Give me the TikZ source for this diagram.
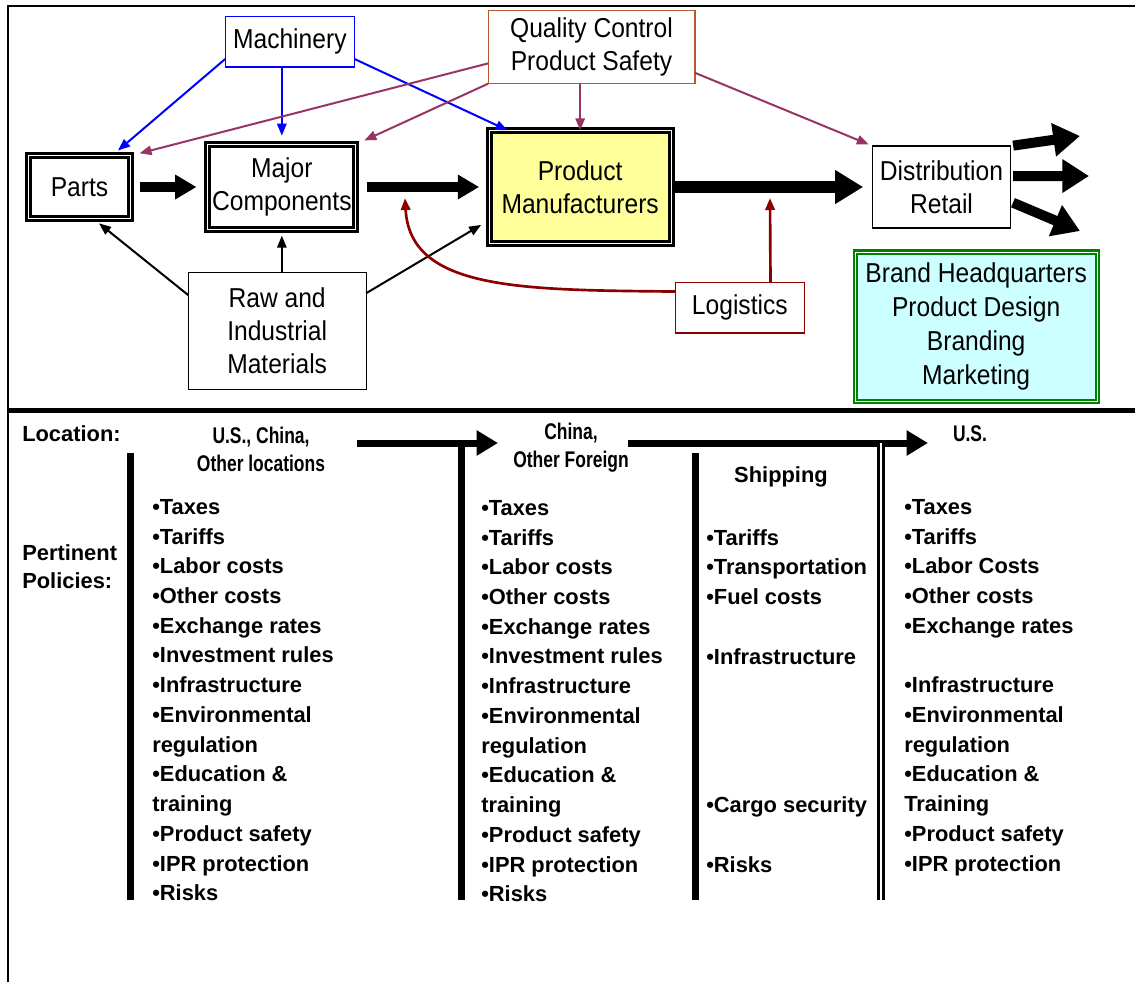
\documentclass[tikz,border=0pt]{standalone}
\usepackage{fontspec}
\setmainfont{Liberation Sans}
\newfontfamily\boxfont[FakeStretch=0.9]{Liberation Sans}
\newfontfamily\narrowfont[FakeStretch=0.77]{Liberation Sans}
\usetikzlibrary{positioning,arrows.meta}
\definecolor{QCBrown}{HTML}{B45A32}
\definecolor{QCPurple}{HTML}{993366}
\definecolor{LogRed}{HTML}{8B0000}
\definecolor{MfgYellow}{HTML}{FFFF99}
\definecolor{BrandCyan}{HTML}{CCFFFF}
\definecolor{BrandGreen}{HTML}{008000}
\newcommand{\polbul}{\textbullet}

\begin{document}
\begin{tikzpicture}[
  x=0.75pt, y=-0.75pt,
  box/.style={draw,align=center,inner sep=2pt,outer sep=0pt,line width=1pt,font={\boxfont\fontsize{20.5}{24.75}\selectfont}},
  heavybox/.style={box,line width=2.2pt,double=white,double distance=0.7pt},
  arr/.style={-{Triangle[length=9pt,width=7pt]},line width=1.5pt},
  bigarr/.style={-{Triangle[length=16pt,width=17.5pt]},line width=7.5pt},
  hugearr/.style={-{Triangle[length=21pt,width=24pt]},line width=9pt},
  outarr/.style={-{Triangle[length=20pt,width=24pt]},line width=7.5pt,shorten <=2pt},
  locarr/.style={-{Triangle[length=16pt,width=18pt]},line width=5.25pt},
  bar/.style={line width=5.25pt},
  lbl/.style={inner sep=0pt,font={\bfseries\fontsize{16.4}{22.3}\selectfont}},
  site/.style={inner sep=0pt,align=center,font={\narrowfont\bfseries\fontsize{17}{21}\selectfont}},
  policies/.style={lbl,anchor=north west,align=left}
]
\useasboundingbox (0,0) rectangle (1135,982);
\draw[line width=1.5pt] (8,982) -- (8,6) -- (1135,6);
\draw[line width=3.75pt] (8,410) -- (1135,410);

\node[heavybox,minimum width=76.5pt,minimum height=47pt] (parts) at (79.5,187) {Parts};
\node[heavybox,minimum width=111pt,minimum height=64pt,right=58pt of parts] (mc) {Major\\Components};
\node[heavybox,fill=MfgYellow,minimum width=136.5pt,minimum height=85pt,right=100pt of mc] (pm) {Product\\Manufacturers};
\node[box,minimum width=103.5pt,minimum height=61.5pt,right=151pt of pm] (dist) {Distribution\\Retail};
\node[box,draw=blue,minimum width=97pt,minimum height=38pt,above=58pt of mc,xshift=6pt] (machinery) {Machinery};
\node[box,draw=QCBrown,minimum width=155pt,minimum height=55pt,above=35pt of pm,xshift=8.5pt] (qc) {Quality Control\\Product Safety};
\node[box,minimum width=133.5pt,minimum height=88pt,below=32pt of mc,xshift=-3.5pt] (raw) {Raw and\\Industrial\\Materials};
\node[box,draw=LogRed,minimum width=97pt,minimum height=38pt,below right=29pt and 3pt of pm] (logistics) {Logistics};
\node[box,draw=BrandGreen,fill=BrandCyan,line width=1.6pt,double=white,double distance=0.6pt,minimum width=181.5pt,minimum height=112pt,below=18pt of dist,xshift=26pt,font={\boxfont\fontsize{20.5}{25.5}\selectfont}] (brand) {Brand Headquarters\\Product Design\\Branding\\Marketing};
\coordinate (out1) at (1080,136);
\coordinate (out2) at (1089,176);
\coordinate (out3) at (1080,231);
\coordinate (lgup) at (770,198);
\coordinate (lgmc) at (405,198);

\draw[bigarr,shorten <=7pt,shorten >=8.5pt] (parts) -- (mc);
\draw[bigarr,shorten <=8pt,shorten >=7.5pt] (mc) -- (pm);
\draw[hugearr,shorten <=3pt,shorten >=7pt] (pm) -- (dist);
\draw[outarr] (dist.north east) -- (out1);
\draw[outarr] (dist.9) -- (out2);
\draw[outarr] (dist.-12) -- (out3);
\draw[arr,blue,shorten >=6pt] (machinery.195) -- (parts.44);
\draw[arr,blue,shorten >=6.5pt] (machinery.south -| mc) -- (mc.north);
\draw[arr,blue] (machinery.-15) -- (pm.142);
\draw[arr,QCPurple,shorten >=7pt] (qc.189) -- (parts.north east);
\draw[arr,QCPurple,shorten >=7pt] (qc.south west) -- (mc.north east);
\draw[arr,QCPurple] (qc.south -| pm) -- (pm.north);
\draw[arr,QCPurple,shorten >=3pt] (qc.-14) -- (dist.north west);
\draw[arr,shorten >=6pt] (raw.158) -- (parts.-67);
\draw[arr,shorten >=4.5pt] (raw.north -| mc) -- (mc.south);
\draw[arr,shorten >=7pt] (raw.23) -- (pm.200);
\draw[arr,LogRed,line width=2pt] ([xshift=23pt]logistics.north) -- (lgup);
\draw[arr,LogRed,line width=2pt] (logistics.166) .. controls (520,290) and (410,290) .. (lgmc);

\node[lbl,anchor=west] (loc) at (22,434) {Location:};
\node[lbl,anchor=north west,align=left,font={\bfseries\fontsize{16.4}{21}\selectfont}] (pert) at (22,544) {Pertinent\\Policies:};
\node[site] (site1) at (261,449) {U.S., China,\\Other locations};
\node[site] (site2) at (571,448) {China,\\Other Foreign};
\node[site] (site3) at (970,434) {U.S.};
\node[lbl] (ship) at (781,477) {Shipping};
\draw[locarr] (357,443) -- (498,443);
\draw[locarr] (628,443) -- (928,443);
\draw[bar] (130,453) -- (130,900);
\draw[bar] (461,443) -- (461,900);
\draw[bar] (695,453) -- (695,900);
\draw[line width=2pt,double=white,double distance=1.4pt] (881,443) -- (881,900);

\node[policies] (col1) at (152,499) {\polbul Taxes\\\polbul Tariffs\\\polbul Labor costs\\\polbul Other costs\\\polbul Exchange rates\\\polbul Investment rules\\\polbul Infrastructure\\\polbul Environmental\\regulation\\\polbul Education \&\\training\\\polbul Product safety\\\polbul IPR protection\\\polbul Risks};
\node[policies] (col2) at (481,500) {\polbul Taxes\\\polbul Tariffs\\\polbul Labor costs\\\polbul Other costs\\\polbul Exchange rates\\\polbul Investment rules\\\polbul Infrastructure\\\polbul Environmental\\regulation\\\polbul Education \&\\training\\\polbul Product safety\\\polbul IPR protection\\\polbul Risks};
\node[policies] (col3) at (706,529) {\polbul Tariffs\\\polbul Transportation\\\polbul Fuel costs\\~\\\polbul Infrastructure\\~\\~\\~\\~\\\polbul Cargo security\\~\\\polbul Risks};
\node[policies] (col4) at (904,499) {\polbul Taxes\\\polbul Tariffs\\\polbul Labor Costs\\\polbul Other costs\\\polbul Exchange rates\\~\\\polbul Infrastructure\\\polbul Environmental\\regulation\\\polbul Education \&\\Training\\\polbul Product safety\\\polbul IPR protection};
\end{tikzpicture}
\end{document}
